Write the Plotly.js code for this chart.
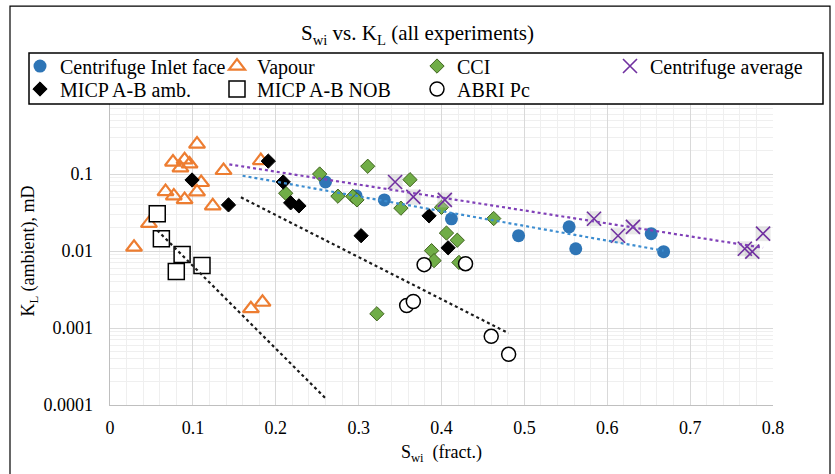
<!DOCTYPE html>
<html>
<head>
<meta charset="utf-8">
<script src="https://cdn.plot.ly/plotly-3.0.1.min.js"></script>
<style>
  html, body { margin: 0; padding: 0; background: #fff; }
  #chart { width: 835px; height: 474px; }
</style>
</head>
<body>
<div id="chart"></div>
<script>
// Swi (fraction) and ambient liquid permeability KL (mD) per experiment type
const swiInlet = [0.260, 0.297, 0.331, 0.412, 0.493, 0.554, 0.562, 0.653, 0.668];
const klInlet = [0.0788, 0.0519, 0.0461, 0.0262, 0.0158, 0.0206, 0.0107, 0.0168, 0.0098];

const swiVapour = [0.105, 0.076, 0.090, 0.096, 0.085, 0.137, 0.110, 0.067, 0.077, 0.090, 0.105, 0.124, 0.047, 0.029, 0.182, 0.170, 0.184];
const klVapour = [0.244, 0.143, 0.153, 0.135, 0.120, 0.111, 0.0776, 0.059, 0.0519, 0.0465, 0.0585, 0.0385, 0.0228, 0.0112, 0.149, 0.00178, 0.00216];

const swiCCI = [0.253, 0.311, 0.212, 0.275, 0.293, 0.298, 0.351, 0.362, 0.400, 0.463, 0.406, 0.419, 0.388, 0.391, 0.421, 0.322];
const klCCI = [0.100, 0.126, 0.0562, 0.0515, 0.0512, 0.0461, 0.0360, 0.0844, 0.0369, 0.0264, 0.0171, 0.0138, 0.0101, 0.0075, 0.0071, 0.00153];

const swiAverage = [0.344, 0.366, 0.404, 0.584, 0.613, 0.631, 0.766, 0.775, 0.788];
const klAverage = [0.0788, 0.0504, 0.0461, 0.0262, 0.0158, 0.0206, 0.0107, 0.0098, 0.0168];

const swiAmb = [0.099, 0.143, 0.191, 0.209, 0.218, 0.228, 0.303, 0.385, 0.408];
const klAmb = [0.0836, 0.0397, 0.147, 0.0788, 0.0422, 0.0385, 0.0158, 0.0286, 0.0110];

const swiNob = [0.057, 0.062, 0.087, 0.080, 0.111];
const klNob = [0.0304, 0.0144, 0.0090, 0.0054, 0.0065];

const swiAbri = [0.379, 0.429, 0.358, 0.366, 0.460, 0.481];
const klAbri = [0.00665, 0.00685, 0.00196, 0.00221, 0.00078, 0.000455];

const yTickVals = [0.0001, 0.001, 0.01, 0.1];
const yTickText = ['0.0001', '0.001', '0.01', '0.1'];

// Exponential trendline (least squares on log10 K), with forecast spans in Swi
function expTrend(xs, ys, backward, forward) {
  const n = xs.length;
  const ly = ys.map(v => Math.log10(v));
  const mx = xs.reduce((a, b) => a + b, 0) / n;
  const my = ly.reduce((a, b) => a + b, 0) / n;
  let sxy = 0, sxx = 0;
  for (let i = 0; i < n; i++) {
    sxy += (xs[i] - mx) * (ly[i] - my);
    sxx += (xs[i] - mx) * (xs[i] - mx);
  }
  const slope = sxy / sxx;
  const x0 = Math.min(...xs) - backward;
  const x1 = Math.max(...xs) + forward;
  const f = x => Math.pow(10, my + slope * (x - mx));
  return { x: [x0, x1], y: [f(x0), f(x1)] };
}

const FONT = 'Liberation Serif, Times New Roman, serif';

// plot area geometry (px)
const L = 110, R = 62, T = 97, B = 68.5;
const W = 835 - L - R, H = 474 - T - B;
const px = v => (v - L) / W;
const py = v => (474 - B - v) / H;

function legendAt(xPix, yPix) {
  return {
    x: px(xPix), y: py(yPix), xanchor: 'left', yanchor: 'middle',
    bgcolor: 'rgba(0,0,0,0)', borderwidth: 0,
    font: { family: FONT, size: 20, color: '#000' }
  };
}

const trendInlet = expTrend(swiInlet, klInlet, 0.1, 0);
const trendAverage = expTrend(swiAverage, klAverage, 0.2, 0);
const trendAbri = expTrend(swiAbri, klAbri, 0.2, 0);
const trendNob = expTrend(swiNob, klNob, 0, 0.15);

const traces = [
  { x: swiInlet, y: klInlet, mode: 'markers', type: 'scatter', name: 'Centrifuge Inlet face', legend: 'legend',
    marker: { symbol: 'circle', size: 13, color: '#2E75B6' } },
  { x: swiVapour, y: klVapour, mode: 'markers', type: 'scatter', name: 'Vapour', legend: 'legend2',
    marker: { symbol: 'triangle-up-open', size: 14, color: '#ED7D31', line: { width: 2.2, color: '#ED7D31' } } },
  { x: swiCCI, y: klCCI, mode: 'markers', type: 'scatter', name: 'CCI', legend: 'legend3',
    marker: { symbol: 'diamond', size: 11, color: '#70AD47', line: { width: 1, color: '#41641F' } } },
  { x: swiAverage, y: klAverage, mode: 'markers', type: 'scatter', showlegend: false, hoverinfo: 'skip',
    marker: { symbol: 'square', size: 15, color: 'rgba(190,190,190,0.35)' } },
  { x: swiAverage, y: klAverage, mode: 'markers', type: 'scatter', name: 'Centrifuge average', legend: 'legend4',
    marker: { symbol: 'x-thin', size: 14, color: '#7030A0', line: { width: 1.6, color: '#7030A0' } } },
  { x: swiAmb, y: klAmb, mode: 'markers', type: 'scatter', name: 'MICP A-B amb.', legend: 'legend5',
    marker: { symbol: 'diamond', size: 11, color: '#000000', line: { width: 1, color: '#000000' } } },
  { x: swiNob, y: klNob, mode: 'markers', type: 'scatter', name: 'MICP A-B NOB', legend: 'legend6',
    marker: { symbol: 'square', size: 16, color: '#ffffff', line: { width: 1.5, color: '#000000' } } },
  { x: swiAbri, y: klAbri, mode: 'markers', type: 'scatter', name: 'ABRI Pc', legend: 'legend7',
    marker: { symbol: 'circle', size: 14, color: '#ffffff', line: { width: 1.5, color: '#000000' } } },
  { x: trendInlet.x, y: trendInlet.y, mode: 'lines', type: 'scatter', showlegend: false, hoverinfo: 'skip',
    line: { color: '#3C8DD0', width: 2.2, dash: 'dot' } },
  { x: trendAverage.x, y: trendAverage.y, mode: 'lines', type: 'scatter', showlegend: false, hoverinfo: 'skip',
    line: { color: '#8040B8', width: 2.2, dash: 'dot' } },
  { x: trendAbri.x, y: trendAbri.y, mode: 'lines', type: 'scatter', showlegend: false, hoverinfo: 'skip',
    line: { color: '#1a1a1a', width: 2.2, dash: 'dot' } },
  { x: trendNob.x, y: trendNob.y, mode: 'lines', type: 'scatter', showlegend: false, hoverinfo: 'skip',
    line: { color: '#1a1a1a', width: 2.2, dash: 'dot' } }
];

// minor log gridlines at 2..9 of each decade
const yMinor = [];
for (let e = -4; e < 0; e++) {
  for (let m = 2; m <= 9; m++) yMinor.push(m * Math.pow(10, e));
}

const layout = {
  width: 835, height: 474,
  margin: { l: L, r: R, t: T, b: B, pad: 0 },
  paper_bgcolor: '#ffffff', plot_bgcolor: '#ffffff',
  font: { family: FONT, color: '#000' },
  title: {
    text: 'S<sub>wi</sub> vs. K<sub>L</sub> (all experiments)',
    font: { family: FONT, size: 21, color: '#000' },
    x: 0.5, xref: 'container', xanchor: 'center',
    y: 1 - 33 / 474, yref: 'container', yanchor: 'middle'
  },
  xaxis: {
    range: [0, 0.8], dtick: 0.1, tick0: 0,
    showgrid: true, gridcolor: '#d9d9d9', gridwidth: 1,
    minor: { dtick: 0.02, showgrid: true, gridcolor: '#efefef', gridwidth: 1 },
    showline: true, linecolor: '#bfbfbf', linewidth: 1.3, zeroline: false,
    ticks: '', ticklabelstandoff: 6,
    tickfont: { family: FONT, size: 18, color: '#000' },
    title: { text: 'S<sub>wi</sub>&nbsp; (fract.)', font: { family: FONT, size: 18, color: '#000' }, standoff: 8 }
  },
  yaxis: {
    type: 'log', range: [-4, 0],
    tickmode: 'array', tickvals: yTickVals, ticktext: yTickText,
    showgrid: true, gridcolor: '#d9d9d9', gridwidth: 1,
    minor: { tickmode: 'array', tickvals: yMinor, showgrid: true, gridcolor: '#efefef', gridwidth: 1 },
    showline: true, linecolor: '#bfbfbf', linewidth: 1.3, zeroline: false,
    ticks: '', ticklabelstandoff: 12,
    tickfont: { family: FONT, size: 18, color: '#000' },
    title: { text: 'K<sub>L</sub> (ambient), mD', font: { family: FONT, size: 18, color: '#000' }, standoff: 4 }
  },
  legend: legendAt(20, 66),
  legend2: legendAt(217, 66),
  legend3: legendAt(417, 66),
  legend4: legendAt(610, 66),
  legend5: legendAt(20, 89),
  legend6: legendAt(217, 89),
  legend7: legendAt(417, 89),
  shapes: [
    // chart frame
    { type: 'rect', xref: 'paper', yref: 'paper', layer: 'below',
      x0: px(10), x1: px(830), y0: py(476), y1: py(6),
      line: { color: '#000', width: 1.2 }, fillcolor: 'rgba(0,0,0,0)' },
    // legend box
    { type: 'rect', xref: 'paper', yref: 'paper', layer: 'above',
      x0: px(29), x1: px(823), y0: py(104), y1: py(53),
      line: { color: '#000', width: 1.5 }, fillcolor: '#ffffff' }
  ],
  showlegend: true
};

Plotly.newPlot('chart', traces, layout, { displayModeBar: false, staticPlot: true });
</script>
</body>
</html>
